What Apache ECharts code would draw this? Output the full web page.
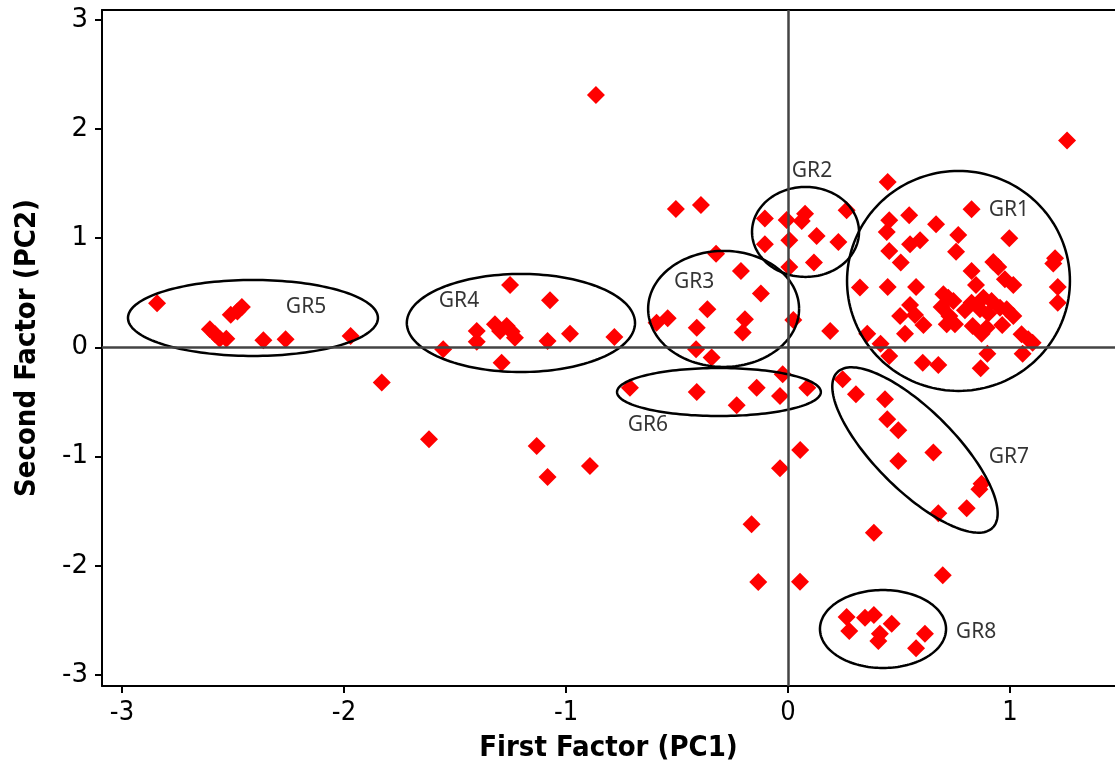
<!DOCTYPE html>
<html><head><meta charset="utf-8">
<script src="https://cdn.jsdelivr.net/npm/echarts@6/dist/echarts.min.js"></script>
<style>html,body{margin:0;padding:0;background:#fff}#c{width:1115px;height:771px}</style>
</head><body><div id="c"></div>
<script>
// PC1 (x) and PC2 (y) scores
const pc1 = [
 -2.842,-2.51,-2.48,-2.46,-2.604,-2.58,-2.56,-2.53,-2.363,-2.263,-1.97,-1.83,
 -1.252,-1.072,-1.402,-1.402,-1.553,-1.32,-1.297,-1.267,-1.245,-1.23,-1.29,-1.083,-0.982,-0.782,
 -0.324,-0.212,-0.122,-0.363,-0.592,-0.542,-0.411,-0.194,-0.204,-0.414,-0.344,0.024,
 -0.024,-0.712,-0.411,-0.141,-0.036,0.087,-0.231,0.19,
 -0.104,-0.006,0.062,0.077,0.264,-0.104,0.006,0.129,0.227,0.006,0.117,
 0.449,0.827,0.456,0.546,0.667,0.445,0.767,0.997,0.55,0.595,0.456,0.757,0.508,0.925,0.947,1.203,1.195,
 0.827,0.977,1.015,0.847,0.324,0.449,0.577,1.215,1.215,0.70,0.722,0.745,0.692,0.55,0.505,0.572,0.61,
 0.527,0.727,0.752,0.715,0.797,0.827,0.88,0.917,0.955,0.865,0.902,0.832,0.872,0.895,0.965,1.015,0.985,
 1.052,1.082,1.102,0.357,0.417,0.456,0.607,0.677,0.898,0.868,1.057,1.257,
 0.246,0.306,0.437,0.447,0.497,0.655,0.497,0.872,0.862,0.805,0.677,0.387,0.055,
 0.697,0.264,0.276,0.347,0.387,0.467,0.414,0.407,0.617,0.577,0.054,
 -1.617,-1.132,-1.083,-0.892,-0.164,-0.036,-0.134,-0.865,-0.505,-0.392
];
const pc2 = [
 0.405,0.30,0.33,0.37,0.167,0.12,0.08,0.08,0.066,0.075,0.105,-0.32,
 0.572,0.432,0.151,0.053,-0.017,0.212,0.151,0.197,0.145,0.09,-0.139,0.06,0.126,0.096,
 0.859,0.70,0.493,0.35,0.227,0.267,0.181,0.258,0.136,-0.017,-0.093,0.252,
 -0.245,-0.368,-0.407,-0.368,-0.444,-0.368,-0.529,0.15,
 1.18,1.168,1.158,1.225,1.256,0.945,0.982,1.021,0.966,0.737,0.777,
 1.516,1.265,1.165,1.21,1.128,1.058,1.03,1.0,0.945,0.982,0.884,0.877,0.777,0.783,0.737,0.817,0.768,
 0.70,0.624,0.572,0.572,0.548,0.554,0.554,0.554,0.41,0.487,0.456,0.426,0.371,0.389,0.288,0.298,0.206,
 0.126,0.288,0.212,0.212,0.341,0.41,0.456,0.426,0.364,0.35,0.31,0.197,0.126,0.181,0.206,0.288,0.35,
 0.121,0.075,0.044,0.126,0.035,-0.078,-0.139,-0.16,-0.057,-0.19,-0.057,1.896,
 -0.291,-0.429,-0.474,-0.658,-0.758,-0.963,-1.039,-1.247,-1.299,-1.473,-1.518,-1.696,-0.94,
 -2.086,-2.468,-2.596,-2.474,-2.45,-2.529,-2.621,-2.688,-2.621,-2.755,-2.145,
 -0.841,-0.902,-1.186,-1.085,-1.619,-1.106,-2.147,2.312,1.268,1.305
];
// group annotations: centre, radii (x units, y units), rotation (deg)
const groupNames = ['GR1','GR2','GR3','GR4','GR5','GR6','GR7','GR8'];
const ellCx  = [0.768, 0.079, -0.29, -1.203, -2.41, -0.311, 0.572, 0.428];
const ellCy  = [0.609, 1.058, 0.353, 0.224, 0.27, -0.408, -0.939, -2.578];
const ellRx  = [0.502, 0.241, 0.34, 0.514, 0.563, 0.459, 0.495, 0.284];
const ellRy  = [1.007, 0.412, 0.531, 0.449, 0.348, 0.22, 0.366, 0.357];
const ellRot = [0, 0, 0, 0, 0, 0, -45, 0];
const labelX = [0.995, 0.108, -0.423, -1.482, -2.171, -0.631, 0.995, 0.847];
const labelY = [1.259, 1.613, 0.60, 0.426, 0.371, -0.71, -1.003, -2.605];
const xTicks = [-3,-2,-1,0,1];
const yTicks = [-3,-2,-1,0,1,2,3];

const points = pc1.map((x,i)=>[x, pc2[i]]);
const ellData = groupNames.map((n,i)=>[ellCx[i], ellCy[i], ellRx[i], ellRy[i], ellRot[i]]);
const labData = groupNames.map((n,i)=>({name:n, value:[labelX[i], labelY[i]]}));

const COND = '"DejaVu Sans Condensed","Liberation Sans Narrow","DejaVu Sans"';
const XMIN=-3.09, XMAX=1.473, YMIN=-3.1, YMAX=3.09;
const chart = echarts.init(document.getElementById('c'), null, {renderer:'canvas'});
chart.setOption({
  animation:false,
  grid:{left:102, top:10, right:0, bottom:85},
  xAxis:[{
    type:'value', min:XMIN, max:XMAX, position:'bottom',
    name:'First Factor (PC1)', nameLocation:'middle', nameGap:48,
    nameTextStyle:{fontFamily:COND, fontWeight:'bold', fontSize:29, color:'#000'},
    axisLine:{show:true, onZero:false, lineStyle:{color:'#000', width:2}},
    axisTick:{show:true, customValues:xTicks, length:7, lineStyle:{color:'#000', width:2}},
    axisLabel:{customValues:xTicks, margin:13, fontSize:27, color:'#000', fontFamily:COND},
    splitLine:{show:false}
  },{
    type:'value', min:XMIN, max:XMAX, position:'top',
    axisLine:{show:true, onZero:false, lineStyle:{color:'#000', width:2}},
    axisTick:{show:false}, axisLabel:{show:false}, splitLine:{show:false}
  }],
  yAxis:{
    type:'value', min:YMIN, max:YMAX,
    name:'Second Factor (PC2)', nameLocation:'middle', nameGap:60,
    nameTextStyle:{fontFamily:COND, fontWeight:'bold', fontSize:29, color:'#000'},
    axisLine:{show:true, onZero:false, lineStyle:{color:'#000', width:2}},
    axisTick:{show:true, customValues:yTicks, length:7, lineStyle:{color:'#000', width:2}},
    axisLabel:{customValues:yTicks, margin:14, fontSize:26, color:'#000', fontFamily:'"DejaVu Sans"'},
    splitLine:{show:false}
  },
  series:[
    {type:'scatter', data:[], z:1, silent:true,
     markLine:{silent:true, symbol:'none', label:{show:false},
       lineStyle:{color:'#444', width:2.5, type:'solid'},
       emphasis:{disabled:true},
       data:[{xAxis:0},{yAxis:0}]}},
    {type:'scatter', data:points, symbol:'diamond', symbolSize:18, z:3,
     itemStyle:{color:'#ff0000', opacity:1}},
    {type:'custom', data:ellData, z:4, silent:true, encode:{x:0, y:1},
     renderItem:function(params, api){
       const c = api.coord([api.value(0), api.value(1)]);
       const s = api.size([api.value(2), api.value(3)]);
       const rot = api.value(4)*Math.PI/180;
       const pts=[];
       for(let k=0;k<=160;k++){
         const t = k/160*2*Math.PI;
         const ex = s[0]*Math.cos(t), ey = s[1]*Math.sin(t);
         const rx = ex*Math.cos(-rot) - ey*Math.sin(-rot);
         const ry = ex*Math.sin(-rot) + ey*Math.cos(-rot);
         pts.push([c[0]+rx, c[1]+ry]);
       }
       return {type:'polyline', shape:{points:pts}, style:{fill:null, stroke:'#000', lineWidth:2.5}};
     }},
    {type:'scatter', data:labData, symbolSize:2, z:5, silent:true,
     itemStyle:{color:'rgba(0,0,0,0)'},
     label:{show:true, position:'inside', formatter:'{b}', color:'#000', fontSize:21, fontFamily:'"Noto Sans"'}}
  ]
});
</script></body></html>
